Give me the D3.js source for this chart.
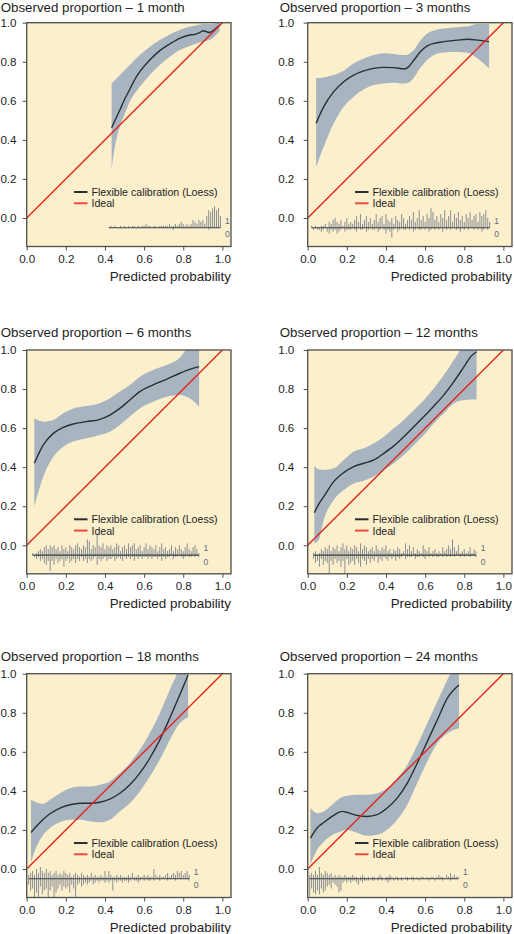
<!DOCTYPE html>
<html><head><meta charset="utf-8">
<script src="https://cdn.jsdelivr.net/npm/d3@7"></script>
<style>
html,body{margin:0;padding:0;background:#fff;}
svg{display:block;}
</style></head>
<body>
<svg id="chart" width="514" height="934"></svg>
<script>
// ---------- data ----------
const titles = ["Observed proportion – 1 month","Observed proportion – 3 months","Observed proportion – 6 months",
  "Observed proportion – 12 months","Observed proportion – 18 months","Observed proportion – 24 months"];
const xTicks = [0,0.2,0.4,0.6,0.8,1.0];
const yTicks = [0,0.2,0.4,0.6,0.8,1.0];
const legendLabels = ["Flexible calibration (Loess)","Ideal"];
const xLabel = "Predicted probability";

// loess curve + confidence band
const p1X   = [.434,.45,.476,.50,.527,.55,.578,.629,.680,.731,.782,.833,.859,.884,.901,.918,.935,.961,.986];
const p1Fit = [.462,.497,.553,.607,.659,.705,.749,.809,.857,.891,.920,.937,.940,.949,.959,.954,.950,.966,.988];
const p1Hi  = [.689,.705,.732,.757,.783,.808,.834,.877,.911,.940,.962,.980,.985,.991,.993,.993,.993,.996,1.0];
const p1Lo  = [.254,.36,.468,.53,.596,.635,.672,.732,.783,.826,.860,.881,.890,.898,.903,.907,.911,.93,.959];

const p2X   = [.043,.082,.133,.184,.235,.287,.338,.389,.440,.491,.517,.543,.577,.611,.645,.696,.765,.816,.867,.927];
const p2Fit = [.485,.570,.647,.698,.732,.753,.766,.771,.770,.763,.775,.809,.852,.881,.894,.903,.911,.915,.911,.903];
const p2Hi  = [.715,.720,.732,.754,.792,.817,.834,.843,.840,.834,.840,.860,.911,.945,.960,.970,.977,.980,.993,.993];
const p2Lo  = [.263,.365,.485,.570,.621,.659,.681,.689,.693,.689,.694,.72,.77,.809,.835,.848,.85,.846,.818,.766];

const p3X   = [.039,.085,.136,.187,.238,.306,.374,.425,.476,.527,.578,.646,.714,.782,.833,.881];
const p3Fit = [.420,.514,.573,.604,.621,.633,.645,.667,.701,.744,.787,.821,.850,.881,.901,.915];
const p3Hi  = [.650,.633,.642,.676,.701,.713,.727,.753,.787,.821,.863,.898,.923,.96,1.03,1.08];
const p3Lo  = [.198,.352,.454,.505,.531,.548,.565,.582,.616,.659,.701,.735,.761,.770,.753,.710];

const p4X   = [.034,.056,.082,.133,.184,.235,.287,.338,.389,.440,.491,.543,.594,.645,.696,.747,.799,.833,.863];
const p4Fit = [.167,.21,.249,.326,.372,.403,.420,.437,.471,.509,.556,.608,.659,.713,.770,.838,.915,.966,.991];
const p4Hi  = [.406,.39,.386,.394,.437,.480,.497,.522,.556,.599,.642,.693,.744,.804,.872,.949,1.03,1.08,1.12];
const p4Lo  = [.010,.027,.130,.232,.283,.317,.331,.352,.386,.420,.462,.514,.565,.625,.676,.727,.744,.747,.747];

const p5X   = [.022,.051,.085,.119,.170,.221,.272,.323,.374,.425,.476,.527,.578,.629,.680,.731,.782,.825];
const p5Fit = [.187,.22,.255,.283,.312,.329,.337,.337,.342,.358,.388,.431,.491,.567,.661,.772,.891,.993];
const p5Hi  = [.354,.341,.334,.354,.388,.414,.422,.422,.431,.448,.491,.542,.610,.695,.797,.916,1.03,1.12];
const p5Lo  = [.034,.116,.175,.210,.239,.252,.252,.244,.239,.252,.295,.337,.397,.474,.559,.661,.746,.777];

const p6X   = [.014,.048,.082,.133,.176,.201,.253,.304,.355,.406,.457,.509,.560,.611,.662,.713,.773];
const p6Fit = [.158,.210,.238,.275,.295,.290,.274,.269,.278,.312,.363,.440,.542,.652,.763,.874,.942];
const p6Hi  = [.312,.286,.295,.337,.368,.375,.380,.380,.388,.414,.465,.533,.635,.746,.857,.968,1.08];
const p6Lo  = [.022,.099,.14,.178,.195,.201,.184,.170,.175,.201,.252,.329,.440,.550,.644,.695,.721];

// spike histograms (bins of 0.01 starting at rugStart); heights in hundredths of the y unit
const p1RugStart = 0.42;
const p1Up   = [0,1,0,1,0,0,1,0,1, 0,1,0,1,1,0,1,0,1,1, 2,1,1,0,1,1,0,1,1,1, 1,1,2,1,1,2,1,2,3,2, 1,2,1,2,4,3,2,4,3,4, 2,6,9,8,10,11,9,10,6];
const p1Down = [0,0,0,0,0,0,0,0,0, 0,0,0,0,0,0,0,0,0,0, 0,0,0,0,0,0,0,0,0,0, 0,0,0,0,1,0,0,0,0,0, 0,0,0,0,0,0,0,0,0,0, 0,0,1,0,0,0,0,0,0];

const p2RugStart = 0.02;
const p2Up   = [1,0,1,0,0,1,1,2,0,3, 2,4,5,3,2,4,1,3,5,2, 3,2,4,6,3,7,2,4,6,3, 5,2,4,7,3,5,6,2,7,4, 3,5,2,6,4,3,7,5,2,4,
                6,4,8,3,5,9,4,6,3,7, 5,10,8,4,6,3,7,5,9,4, 6,9,3,7,5,8,4,6,3,7, 5,8,4,6,7,3,8,6,7,9, 5,3];
const p2Down = [0,1,0,1,1,2,1,0,2,3, 1,2,1,3,2,1,0,2,1,1, 1,0,1,2,0,1,1,0,2,1, 0,1,1,0,2,1,0,1,3,1, 2,5,1,0,2,1,0,1,1,0,
                1,0,2,1,0,1,1,0,1,0, 2,1,0,1,0,1,0,2,0,1, 0,1,0,0,1,0,2,0,1,0, 1,0,0,1,0,1,0,2,1,0, 1,0];

const p3RugStart = 0.03;
const p3Up   = [1,0,1,2,3,2,4,5,3,5, 4,5,3,4,2,5,3,4,2,5, 4,3,5,6,4,3,5,4,8,7, 3,5,4,11,5,4,6,3,5,4, 5,3,4,6,5,2,4,5,3,6,
                4,5,6,3,4,5,2,4,6,3, 5,4,3,5,2,4,6,3,4,2, 3,5,2,4,3,5,3,2,4,6, 3,2,4,5,3,1];
const p3Down = [0,1,2,1,3,2,4,5,3,8, 3,5,2,4,3,2,6,3,2,4, 3,2,4,2,3,1,3,2,4,2, 3,2,1,5,2,3,2,1,3,2, 2,1,3,2,1,2,3,1,2,1,
                2,1,3,1,2,1,2,1,1,2, 1,2,1,1,2,1,3,1,2,1, 1,0,2,1,1,0,1,2,1,0, 1,1,0,1,0,1];

const p4RugStart = 0.03;
const p4Up   = [1,2,0,1,3,2,4,3,5,2, 4,3,5,2,4,6,3,5,2,4, 3,5,4,2,6,3,5,4,2,3, 4,2,5,3,2,4,3,5,2,3, 1,3,2,4,3,1,2,6,3,5,
                2,4,1,3,2,1,5,3,2,4, 1,2,3,1,2,1,4,2,3,5, 3,8,4,2,5,1,2,3,1,2, 4,1,3,2];
const p4Down = [2,4,3,6,2,5,3,4,10,3, 5,2,4,3,6,3,10,2,5,4, 3,5,2,4,6,2,3,5,2,4, 2,3,1,4,2,3,1,2,3,1, 2,1,3,1,2,1,0,2,1,1,
                1,0,2,1,1,0,1,2,0,1, 0,1,0,1,1,0,1,0,1,0, 1,0,1,0,0,1,0,1,0,0, 1,0,0,1];

const p5RugStart = 0.01;
const p5Up   = [2,3,4,2,5,3,6,4,3,5, 3,4,2,3,4,2,3,2,4,3, 2,3,1,2,3,2,1,3,2,1, 2,1,3,1,2,1,1,2,1,4, 1,4,2,1,1,2,1,2,1,1,
                1,2,1,3,1,1,2,1,1,2, 1,2,1,1,5,2,1,2,1,1, 2,3,1,2,3,2,4,3,4,2, 3,4,2];
const p5Down = [3,6,5,10,7,10,4,8,6,5, 10,6,4,10,7,5,3,6,4,5, 4,7,3,5,10,3,2,4,3,2, 3,2,1,3,2,1,2,1,1,2, 1,2,1,6,1,2,1,1,2,1,
                1,2,1,0,1,1,2,1,0,1, 0,1,1,0,1,0,0,1,0,0, 0,1,0,0,0,1,0,0,0,0, 0,0,1];

const p6RugStart = 0.01;
const p6Up   = [2,3,2,4,2,6,3,2,4,3, 2,3,1,2,1,2,1,1,2,1, 1,1,2,1,1,0,1,2,1,0, 1,0,1,1,0,1,2,1,0,1, 1,2,1,0,1,1,0,1,0,1,
                1,0,1,1,0,1,0,1,1,0, 1,0,1,1,0,1,2,1,1,0, 2,1,3,1,2,1,1];
const p6Down = [9,5,7,8,6,8,5,7,6,4, 3,5,2,3,4,7,6,2,1,2, 1,2,1,1,2,3,1,2,1,1, 1,0,1,1,0,1,0,1,0,1, 2,1,0,1,0,1,0,1,0,0,
                1,0,0,1,0,0,1,0,0,0, 0,1,0,0,1,0,0,0,1,0, 0,0,1,0,0,0,0];

const rugLevel = -0.05;

const panels = [
  {x:p1X, fit:p1Fit, hi:p1Hi, lo:p1Lo, rs:p1RugStart, up:p1Up, down:p1Down},
  {x:p2X, fit:p2Fit, hi:p2Hi, lo:p2Lo, rs:p2RugStart, up:p2Up, down:p2Down},
  {x:p3X, fit:p3Fit, hi:p3Hi, lo:p3Lo, rs:p3RugStart, up:p3Up, down:p3Down},
  {x:p4X, fit:p4Fit, hi:p4Hi, lo:p4Lo, rs:p4RugStart, up:p4Up, down:p4Down},
  {x:p5X, fit:p5Fit, hi:p5Hi, lo:p5Lo, rs:p5RugStart, up:p5Up, down:p5Down},
  {x:p6X, fit:p6Fit, hi:p6Hi, lo:p6Lo, rs:p6RugStart, up:p6Up, down:p6Down}
];

// ---------- layout & style ----------
const colLeft = [26.7, 307.7];
const colTickPad = [6.2, 9.4];
const colTitleOff = [26, 28];
const rowTop = [22.7, 350, 673.7];
const plotW = 204.3, plotH = 223.8;
const xMax = 1.044, yMin = -0.146, yMax = 1.0;
const FONT = "'Liberation Sans', Arial, Helvetica, sans-serif";
const C = {bg:"#fcefcc", band:"#a8b4c0", fit:"#2a2e35", ideal:"#e3261d", box:"#4d4d4d",
           spike:"#8a8f95", rugBase:"#343c46", text:"#1e1e1e", rugLab:"#5d6b79", legRed:"#ec4a3c"};

const svg = d3.select("#chart");

panels.forEach((p, i) => {
  const col = i % 2;
  const left = colLeft[col], top = rowTop[Math.floor(i / 2)];
  const xs = d3.scaleLinear().domain([0, xMax]).range([left, left + plotW]);
  const ys = d3.scaleLinear().domain([yMin, yMax]).range([top + plotH, top]);
  const g = svg.append("g");

  const clipId = "clip" + i;
  svg.append("clipPath").attr("id", clipId).append("rect")
    .attr("x", xs(0)).attr("y", ys(yMax)).attr("width", plotW).attr("height", plotH);

  g.append("rect").attr("x", xs(0)).attr("y", ys(yMax)).attr("width", plotW).attr("height", plotH)
    .attr("fill", C.bg);

  const inner = g.append("g").attr("clip-path", `url(#${clipId})`);
  const rows = p.x.map((v, k) => ({x: v, fit: p.fit[k], hi: p.hi[k], lo: p.lo[k]}));

  inner.append("path").datum(rows)
    .attr("d", d3.area().curve(d3.curveMonotoneX).x(d => xs(d.x)).y0(d => ys(d.lo)).y1(d => ys(d.hi)))
    .attr("fill", C.band);

  inner.append("path").datum(rows)
    .attr("d", d3.line().curve(d3.curveMonotoneX).x(d => xs(d.x)).y(d => ys(d.fit)))
    .attr("fill", "none").attr("stroke", C.fit).attr("stroke-width", 1.4);

  inner.append("line").attr("x1", xs(0)).attr("y1", ys(0)).attr("x2", xs(xMax)).attr("y2", ys(xMax))
    .attr("stroke", C.ideal).attr("stroke-width", 1.4);

  // spike histogram
  const bins = p.up.map((h, k) => ({x: +(p.rs + k * 0.01).toFixed(2), up: h, down: p.down[k]}));
  inner.selectAll(null).data(bins.filter(d => d.up > 0)).enter().append("line")
    .attr("x1", d => xs(d.x)).attr("x2", d => xs(d.x))
    .attr("y1", ys(rugLevel)).attr("y2", d => ys(rugLevel + d.up * 0.01))
    .attr("stroke", C.spike).attr("stroke-width", 1);
  inner.selectAll(null).data(bins.filter(d => d.down > 0)).enter().append("line")
    .attr("x1", d => xs(d.x)).attr("x2", d => xs(d.x))
    .attr("y1", ys(rugLevel)).attr("y2", d => ys(rugLevel - d.down * 0.01))
    .attr("stroke", C.spike).attr("stroke-width", 1);
  const xEnd = bins[bins.length - 1].x;
  inner.append("line").attr("x1", xs(p.rs)).attr("x2", xs(xEnd))
    .attr("y1", ys(rugLevel)).attr("y2", ys(rugLevel))
    .attr("stroke", C.rugBase).attr("stroke-width", 1.2);
  g.append("text").attr("x", xs(xEnd) + 7).attr("y", ys(rugLevel) - 7).text("1")
    .attr("font-family", FONT).attr("font-size", 8.5).attr("fill", C.rugLab)
    .attr("text-anchor", "middle").attr("dominant-baseline", "central");
  g.append("text").attr("x", xs(xEnd) + 7).attr("y", ys(rugLevel) + 6.5).text("0")
    .attr("font-family", FONT).attr("font-size", 8.5).attr("fill", C.rugLab)
    .attr("text-anchor", "middle").attr("dominant-baseline", "central");

  // legend
  const lx = xs(0) + 47.3, ly1 = ys(0) - 26, ly2 = ys(0) - 14.7;
  [[ly1, C.fit, legendLabels[0]], [ly2, C.legRed, legendLabels[1]]].forEach(([yy, colr, txt]) => {
    g.append("line").attr("x1", lx).attr("x2", lx + 13.5).attr("y1", yy).attr("y2", yy)
      .attr("stroke", colr).attr("stroke-width", 2);
    g.append("text").attr("x", lx + 17.5).attr("y", yy).text(txt)
      .attr("font-family", FONT).attr("font-size", 10.6).attr("fill", C.text)
      .attr("dominant-baseline", "central");
  });

  // box
  g.append("rect").attr("x", xs(0)).attr("y", ys(yMax)).attr("width", plotW).attr("height", plotH)
    .attr("fill", "none").attr("stroke", C.box).attr("stroke-width", 1.3);

  // axes
  const xAxis = d3.axisBottom(xs).tickValues(xTicks).tickFormat(d3.format(".1f")).tickSize(4).tickPadding(4);
  const ax = g.append("g").attr("transform", `translate(0,${ys(yMin)})`).call(xAxis);
  const yAxis = d3.axisLeft(ys).tickValues(yTicks).tickFormat(d3.format(".1f")).tickSize(4).tickPadding(colTickPad[col]);
  const ay = g.append("g").attr("transform", `translate(${xs(0)},0)`).call(yAxis);
  [ax, ay].forEach(a => {
    a.select(".domain").remove();
    a.selectAll(".tick line").attr("stroke", C.box).attr("stroke-width", 1);
    a.selectAll(".tick text").attr("font-family", FONT).attr("font-size", 11.6).attr("fill", C.text);
  });

  // title and x label
  g.append("text").attr("x", xs(0) - colTitleOff[col]).attr("y", Math.max(ys(yMax) - 13, 12.4)).text(titles[i])
    .attr("font-family", FONT).attr("font-size", 13.3).attr("fill", C.text);
  g.append("text").attr("x", xs(0) + plotW).attr("y", ys(yMin) + 34).text(xLabel)
    .attr("text-anchor", "end")
    .attr("font-family", FONT).attr("font-size", 13.4).attr("fill", C.text);
});
</script>
</body></html>
